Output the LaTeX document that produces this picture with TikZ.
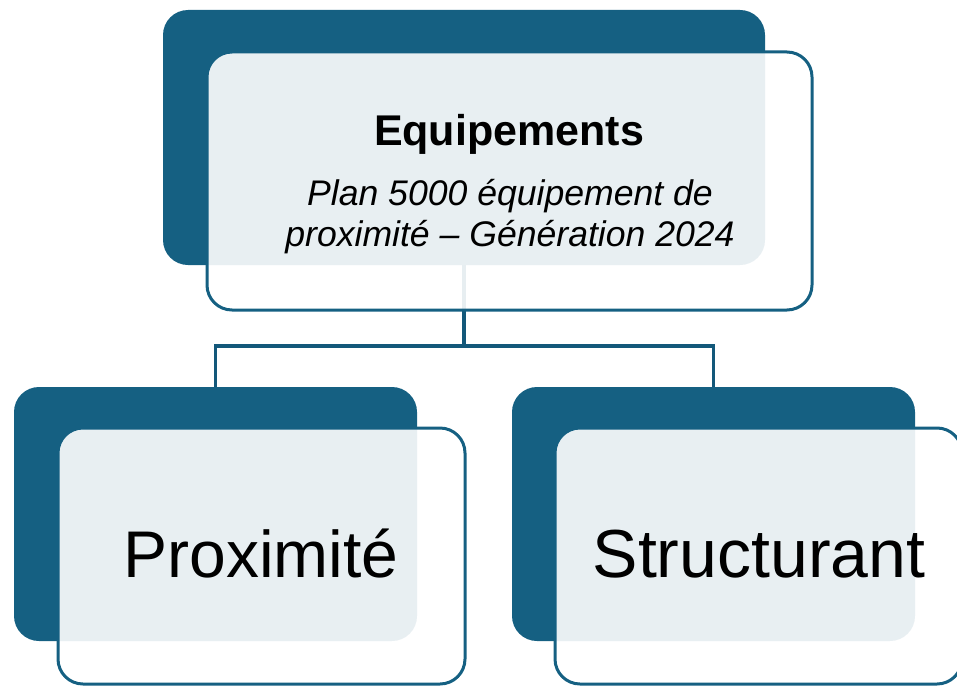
\documentclass[tikz,border=0pt]{standalone}
\usepackage{fontspec}
\setmainfont{Liberation Sans}
\definecolor{accent}{HTML}{156082}
\definecolor{linkc}{HTML}{13587A}
\begin{document}
\begin{tikzpicture}[x=1pt,y=-1pt,
  darkbox/.style={rectangle, rounded corners=25pt, fill=accent, draw=none, inner sep=0pt},
  frontbox/.style={rectangle, rounded corners=25pt, fill=white, fill opacity=0.9, draw=accent, draw opacity=1, line width=3pt, inner sep=0pt, text opacity=1},
  link/.style={draw=linkc, line width=3.5pt},
  lbl/.style={anchor=base, inner sep=0pt, text=black}]
\useasboundingbox (0,0) rectangle (957,685);
\clip (0,0) rectangle (957,685);
% back (dark) boxes
\node[darkbox, minimum width=602pt, minimum height=255pt] (d0) at (464,137.5) {};
\node[darkbox, minimum width=403pt, minimum height=254pt] (d1) at (215.5,514) {};
\node[darkbox, minimum width=403pt, minimum height=254pt] (d2) at (713.5,514) {};
% connectors
\coordinate (mid) at (464,346);
\draw[link] (d0.south) -- (mid);
\draw[link] (mid) -| (d1.north);
\draw[link] (mid) -| (d2.north);
% front boxes
\node[frontbox, minimum width=605pt, minimum height=258pt] (f0) at (509.5,181) {};
\node[frontbox, minimum width=407pt, minimum height=256pt] (f1) at (261.5,556) {};
\node[frontbox, minimum width=407pt, minimum height=256pt] (f2) at (758.5,556) {};
% labels
\node[lbl, font=\fontsize{43}{50}\selectfont\bfseries] (t0) at (509,145) {Equipements};
\node[lbl, font=\fontsize{35.6}{41}\selectfont\itshape] (t1) at (510,205) {Plan 5000 équipement de};
\node[lbl, font=\fontsize{35.6}{41}\selectfont\itshape] (t2) at (510,246) {proximité – Génération 2024};
\node[lbl, font=\fontsize{66}{76}\selectfont] (t3) at (261,577) {Proximité};
\node[lbl, font=\fontsize{68}{78}\selectfont] (t4) at (759,577) {Structurant};
\end{tikzpicture}
\end{document}
